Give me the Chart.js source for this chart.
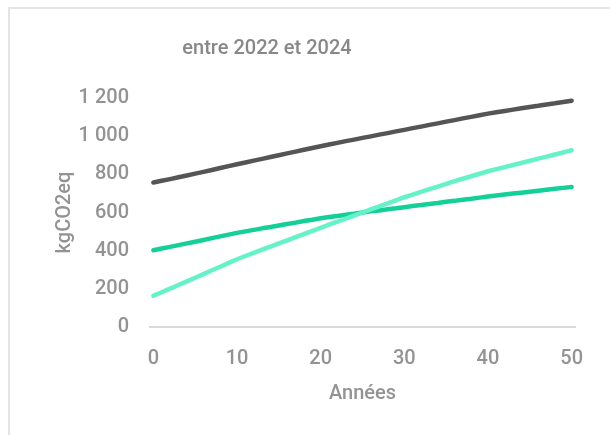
<!DOCTYPE html>
<html lang="fr">
<head>
<meta charset="utf-8">
<title>entre 2022 et 2024</title>
<script src="https://cdn.jsdelivr.net/npm/chart.js@4/dist/chart.umd.min.js"></script>
<style>
  html, body { margin: 0; padding: 0; background: #fff; overflow: hidden; }
  .frame {
    position: absolute; left: 8px; top: 7px; width: 800px; height: 600px;
    border: 2px solid #e4e4e4; box-sizing: border-box;
  }
  #chart { position: absolute; left: 0; top: 0; }
</style>
</head>
<body>
<div class="frame"></div>
<canvas id="chart" width="610" height="435"></canvas>
<script>
const TITLE = 'entre 2022 et 2024';
const X_TITLE = 'Années';
const Y_TITLE = 'kgCO2eq';

const years = [0, 1, 2, 3, 4, 5, 6, 7, 8, 9, 10, 11, 12, 13, 14, 15, 16, 17, 18, 19, 20,
  21, 22, 23, 24, 25, 26, 27, 28, 29, 30, 31, 32, 33, 34, 35, 36, 37, 38, 39, 40,
  41, 42, 43, 44, 45, 46, 47, 48, 49, 50];

const darkSeries = [757, 766, 775, 785, 794, 804, 813, 823, 833, 843, 853, 862, 872, 881, 891,
  900, 910, 919, 929, 938, 947, 956, 965, 974, 982, 991, 999, 1008, 1016, 1025, 1033, 1042,
  1050, 1059, 1067, 1076, 1084, 1093, 1101, 1110, 1118, 1125, 1132, 1139, 1146, 1153, 1159,
  1166, 1172, 1179, 1186];

const lightSeries = [163, 182, 201, 220, 239, 258, 277, 297, 316, 336, 355, 372, 388, 405, 421,
  438, 454, 471, 487, 504, 520, 536, 552, 568, 584, 600, 616, 632, 648, 664, 680, 694, 708,
  722, 736, 750, 764, 777, 790, 803, 816, 827, 838, 849, 860, 871, 882, 893, 904, 915, 926];

const greenSeries = [402, 411, 420, 429, 438, 447, 456, 466, 475, 484, 493, 501, 509, 517, 524,
  532, 540, 547, 555, 562, 570, 576, 582, 588, 594, 600, 606, 611, 617, 622, 628, 634, 639,
  645, 650, 656, 661, 667, 672, 678, 684, 689, 694, 699, 704, 709, 714, 719, 724, 729, 734];

const xTicks = [0, 10, 20, 30, 40, 50];
const yTicks = [0, 200, 400, 600, 800, 1000, 1200];
const yTickLabels = ['0', '200', '400', '600', '800', '1 000', '1 200'];

const FONT = 'Roboto';
const WEIGHT = '500';
const TEXT_COLOR = '#939393';

function toPoints(values) {
  return years.map((x, i) => ({ x, y: values[i] }));
}

function lineDataset(values, color) {
  return {
    data: toPoints(values),
    borderColor: color,
    backgroundColor: color,
    borderWidth: 4.5,
    borderCapStyle: 'round',
    borderJoinStyle: 'round',
    pointRadius: 0,
    pointHoverRadius: 0,
    tension: 0,
  };
}

const titlePlugin = {
  id: 'chartTitle',
  afterDraw(chart) {
    const ctx = chart.ctx;
    ctx.save();
    ctx.font = WEIGHT + ' 20px ' + FONT;
    ctx.fillStyle = '#888888';
    ctx.textAlign = 'center';
    ctx.textBaseline = 'middle';
    ctx.fillText(TITLE, 267, 49);
    ctx.restore();
  },
};

const textFont = { family: FONT, size: 20, weight: WEIGHT };

new Chart(document.getElementById('chart'), {
  type: 'line',
  data: {
    datasets: [
      lineDataset(darkSeries, '#555555'),
      lineDataset(lightSeries, '#66f2c9'),
      lineDataset(greenSeries, '#13d099'),
    ],
  },
  options: {
    responsive: false,
    animation: false,
    layout: { padding: { top: 98, right: 35, bottom: 0, left: 0 } },
    plugins: {
      legend: { display: false },
      title: { display: false },
      tooltip: { enabled: false },
    },
    scales: {
      x: {
        type: 'linear',
        min: -0.4,
        max: 50.4,
        afterBuildTicks: (scale) => { scale.ticks = xTicks.map((v) => ({ value: v })); },
        afterFit: (scale) => { scale.height = 108; },
        grid: { display: false, drawTicks: false },
        border: { display: true, color: '#dadada', width: 2 },
        ticks: {
          padding: 20,
          color: TEXT_COLOR,
          font: textFont,
          maxRotation: 0,
          autoSkip: false,
        },
        title: {
          display: true,
          text: X_TITLE,
          color: TEXT_COLOR,
          font: textFont,
          padding: { top: 0, bottom: 29 },
        },
      },
      y: {
        min: 0,
        max: 1200,
        afterBuildTicks: (scale) => { scale.ticks = yTicks.map((v) => ({ value: v })); },
        afterFit: (scale) => { scale.width = 150; },
        grid: { display: false, drawTicks: false },
        border: { display: false },
        ticks: {
          padding: 21,
          color: TEXT_COLOR,
          font: textFont,
          callback: (value) => yTickLabels[yTicks.indexOf(value)],
        },
        title: {
          display: true,
          text: Y_TITLE,
          color: TEXT_COLOR,
          font: textFont,
          padding: { top: 53, bottom: 0 },
        },
      },
    },
  },
  plugins: [titlePlugin],
});
</script>
</body>
</html>
